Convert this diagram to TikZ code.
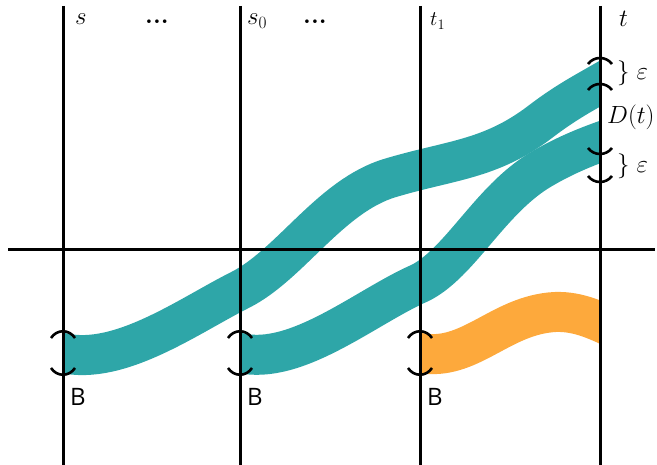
\documentclass[tikz,border=0pt]{standalone}
\usepackage{fontspec}
\setsansfont{Open Sans}
\definecolor{bandteal}{RGB}{46,166,168}
\definecolor{bandorange}{RGB}{253,169,60}
\tikzset{
  axisline/.style={line width=3pt},
  capmark/.style={line width=2.6pt},
  band/.style={line width=40pt},
}
\begin{document}
\begin{tikzpicture}[x=1pt,y=-1pt,font=\fontsize{25}{30}\selectfont]
    \useasboundingbox (0,0) rectangle (657,465);
    \def\xs{63}    % s
    \def\xa{240}   % s_0
    \def\xb{420}   % t_1
    \def\xt{600}   % t
    \def\yh{250}   % horizontal line
    \def\yb{353}   % start height of the bands
    % Bands
    \begin{scope}
      \clip (\xs,0) rectangle (\xt,465);
      \draw[band, bandteal] (50,\yb) -- (\xs,\yb)
        .. controls (120,366) and (190,315) .. (\xa,290)
        .. controls (290,265) and (330,196) .. (390,178)
        .. controls (450,160) and (490,160) .. (540,122)
        .. controls (570,99) and (590,90) .. (620,72);
    \end{scope}
    \begin{scope}
      \clip (\xa,0) rectangle (\xt,465);
      \draw[band, bandteal] (230,\yb) -- (\xa,\yb)
        .. controls (297,366) and (367,306) .. (\xb,283)
        .. controls (460,263) and (490,200) .. (540,170)
        .. controls (565,155) and (590,145) .. (620,135);
    \end{scope}
    \begin{scope}
      \clip (\xb,0) rectangle (\xt,465);
      \draw[band, bandorange] (410,\yb) -- (\xb,\yb)
        .. controls (470,362) and (500,315) .. (555,312)
        .. controls (580,311) and (600,322) .. (620,331);
    \end{scope}
    % Axes
    \draw[axisline] (8,\yh) -- (655,\yh);
    \foreach \x in {\xs,\xa,\xb,\xt}
      \draw[axisline] (\x,6) -- (\x,465);
    % Marks at the start of each band
    \foreach \x in {\xs,\xa,\xb} {
      \draw[capmark] (\x-12,338) .. controls (\x-6,329) and (\x+6,329) .. (\x+12,338);
      \draw[capmark] (\x-12,368) .. controls (\x-6,377) and (\x+6,377) .. (\x+12,368);
    }
    % Marks on t
    \foreach \y in {60,86}
      \draw[capmark] (\xt-12,\y+4) .. controls (\xt-6,\y-4) and (\xt+6,\y-4) .. (\xt+12,\y+4);
    \foreach \y in {152,180}
      \draw[capmark] (\xt-12,\y-4) .. controls (\xt-6,\y+4) and (\xt+6,\y+4) .. (\xt+12,\y-4);
    % Labels
    \node[anchor=base west, inner sep=0] (lbls) at (75,25) {$s$};
    \node[anchor=base west, inner sep=0] (dotsa) at (145,24) {\textbf{...}};
    \node[anchor=base west, inner sep=0] (lbls0) at (247,25) {$s_0$};
    \node[anchor=base west, inner sep=0] (dotsb) at (303,24) {\textbf{...}};
    \node[anchor=base west, inner sep=0, font=\fontsize{20}{24}\selectfont] (lblt1) at (430,26) {$t_1$};
    \node[anchor=base west, inner sep=0] (lblt) at (619,27) {$t$};
    \node[anchor=west, inner sep=0] (epsa) at (617,73) {$\}\;\varepsilon$};
    \node[anchor=west, inner sep=0, font=\fontsize{23}{27}\selectfont] (lbld) at (607,117) {$D(t)$};
    \node[anchor=west, inner sep=0] (epsb) at (617,166) {$\}\;\varepsilon$};
    \foreach \x/\n in {\xs/a,\xa/b,\xb/c}
      \node[anchor=base west, inner sep=0, font=\fontsize{24}{28}\selectfont\sffamily] (lblb\n) at (\x+7,406) {B};
\end{tikzpicture}
\end{document}
